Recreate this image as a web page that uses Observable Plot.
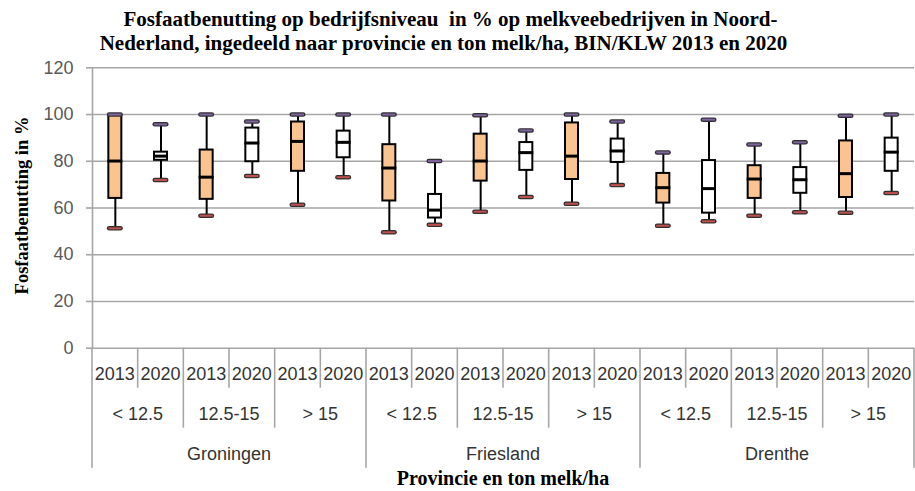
<!DOCTYPE html>
<html>
<head>
<meta charset="utf-8">
<script src="https://cdn.jsdelivr.net/npm/d3@7"></script>
<script src="https://cdn.jsdelivr.net/npm/@observablehq/plot@0.6"></script>
<style>
  html, body { margin: 0; padding: 0; background: white; overflow: hidden; }
  #title { width: 915px; height: 60px; box-sizing: border-box; padding-top: 7px; padding-right: 14px;
    font-family: "Liberation Serif", "Times New Roman", serif; font-weight: bold; font-size: 21px;
    line-height: 24px; text-align: center; color: #000; white-space: nowrap; }
  #title .l2 { position: relative; left: -7px; }
  #chart svg { display: block; max-width: none !important; }
</style>
</head>
<body>
<div id="title">Fosfaatbenutting op bedrijfsniveau&nbsp; in % op melkveebedrijven in Noord-<br><span class="l2">Nederland, ingedeeld naar provincie en ton melk/ha, BIN/KLW 2013 en 2020</span></div>
<div id="chart"></div>
<script>
// ---- data ----
const provinces = ["Groningen", "Friesland", "Drenthe"];
const sizes = ["< 12.5", "12.5-15", "> 15"];
const years = ["2013", "2020"];
const yTicks = [0, 20, 40, 60, 80, 100, 120];
// order: province > size class > year
const lows    = [51.3, 72.0, 56.7, 73.7, 61.4, 73.2,  49.6, 52.8, 58.4, 64.7, 61.8, 69.8,  52.4, 54.3, 56.7, 58.2, 58.0, 66.4];
const q1s     = [64.1, 80.4, 63.7, 79.8, 75.7, 81.5,  63.0, 55.7, 71.5, 76.1, 72.2, 79.5,  62.1, 57.8, 64.1, 66.3, 64.5, 75.7];
const medians = [80.1, 82.2, 73.2, 87.8, 88.5, 88.1,  77.1, 59.1, 80.1, 83.7, 82.2, 84.4,  68.7, 68.3, 72.4, 72.1, 74.7, 83.9];
const q3s     = [99.6, 83.9, 84.8, 94.2, 96.8, 92.9,  87.1, 65.8, 91.6, 88.0, 96.4, 89.5,  74.8, 80.3, 78.1, 77.3, 88.7, 89.9];
const highs   = [100, 95.8, 100, 97.0, 100, 100,  100, 80.1, 99.7, 93.2, 100, 97.0,  83.8, 97.8, 87.2, 88.1, 99.5, 100];

const yTitle = "Fosfaatbenutting in %";
const xTitle = "Provincie en ton melk/ha";

// ---- build rows ----
const rows = lows.map((low, i) => {
  const province = provinces[Math.floor(i / 6)];
  const size = sizes[Math.floor(i / 2) % 3];
  const year = years[i % 2];
  return {key: `${province}|${size}|${year}`, province, size, year, low, q1: q1s[i], median: medians[i], q3: q3s[i], high: highs[i]};
});
const keys = rows.map(d => d.key);

const peach = "#FAC490";
const purple = "#8064A2";
const red = "#C0504D";
const grid = "#A6A6A6";
const outline = "#303030";

const W = 915, H = 431;
const mTop = 7.3, mBottom = 143.3, mLeft = 92, mRight = 1;

const bw = (W - mLeft - mRight) / keys.length;
const boxInset = (bw - 13) / 2;
const medInset = (bw - 15) / 2;
const capOuterInset = (bw - 11.5) / 2;
const capInnerInset = (bw - 13) / 2;

const plot = Plot.plot({
  width: W, height: H,
  marginTop: mTop, marginBottom: mBottom, marginLeft: mLeft, marginRight: mRight,
  style: {fontFamily: "'Liberation Sans', Arial, sans-serif", fontSize: "18px", background: "white", overflow: "visible"},
  x: {type: "band", domain: keys, padding: 0, round: false, axis: null},
  y: {domain: [0, 120], axis: null},
  marks: [
    Plot.gridY(yTicks, {stroke: grid, strokeOpacity: 1, strokeWidth: 1.6}),
    Plot.axisY(yTicks, {tickSize: 6, tickPadding: 13, stroke: grid, strokeWidth: 1.6, fill: "#595959", fontSize: 18, label: null}),
    Plot.frame({anchor: "left", stroke: grid, strokeWidth: 1.6}),
    Plot.ruleX(rows, {x: "key", y1: "low", y2: "high", stroke: "#000", strokeWidth: 2}),
    Plot.barY(rows.filter(d => d.year === "2013"), {x: "key", y1: "q1", y2: "q3", fill: peach, stroke: "#000", strokeWidth: 2, insetLeft: boxInset, insetRight: boxInset}),
    Plot.barY(rows.filter(d => d.year === "2020"), {x: "key", y1: "q1", y2: "q3", fill: "white", stroke: "#000", strokeWidth: 2, insetLeft: boxInset, insetRight: boxInset}),
    Plot.tickY(rows, {x: "key", y: "median", stroke: "#000", strokeWidth: 3, insetLeft: medInset, insetRight: medInset}),
    Plot.tickY(rows, {x: "key", y: "high", stroke: outline, strokeWidth: 4.5, strokeLinecap: "round", insetLeft: capOuterInset, insetRight: capOuterInset}),
    Plot.tickY(rows, {x: "key", y: "high", stroke: purple, strokeWidth: 2, insetLeft: capInnerInset, insetRight: capInnerInset}),
    Plot.tickY(rows, {x: "key", y: "low", stroke: outline, strokeWidth: 4.5, strokeLinecap: "round", insetLeft: capOuterInset, insetRight: capOuterInset}),
    Plot.tickY(rows, {x: "key", y: "low", stroke: red, strokeWidth: 2, insetLeft: capInnerInset, insetRight: capInnerInset})
  ]
});

// ---- hierarchical category axis using Plot's own scales ----
const xs = plot.scale("x");
const ys = plot.scale("y");
const band = xs.bandwidth;
const y0 = ys.apply(0);
const svg = d3.select(plot);
const g = svg.append("g");

const bounds = d3.range(keys.length + 1);
g.selectAll("line.sep").data(bounds).join("line")
  .attr("x1", i => i < keys.length ? xs.apply(keys[i]) : xs.apply(keys[keys.length - 1]) + band)
  .attr("x2", i => i < keys.length ? xs.apply(keys[i]) : xs.apply(keys[keys.length - 1]) + band)
  .attr("y1", y0)
  .attr("y2", i => y0 + (i % 6 === 0 ? 120 : i % 2 === 0 ? 80 : 40))
  .attr("stroke", grid).attr("stroke-width", 1.6);

const txt = (sel) => sel.attr("text-anchor", "middle").attr("dominant-baseline", "middle")
  .attr("font-family", "'Liberation Sans', Arial, sans-serif").attr("font-size", 18).attr("fill", "#333");

g.selectAll("text.yr").data(rows).join("text").call(txt)
  .attr("x", d => xs.apply(d.key) + band / 2).attr("y", y0 + 28).text(d => d.year);

const sizeRows = rows.filter(d => d.year === "2013");
g.selectAll("text.sz").data(sizeRows).join("text").call(txt)
  .attr("x", d => xs.apply(d.key) + band).attr("y", y0 + 68).text(d => d.size);

const provRows = rows.filter((d, i) => i % 6 === 0);
g.selectAll("text.pv").data(provRows).join("text").call(txt)
  .attr("x", d => xs.apply(d.key) + 3 * band).attr("y", y0 + 108).text(d => d.province);

g.append("text").call(txt)
  .attr("x", (mLeft + W - mRight) / 2).attr("y", y0 + 133)
  .attr("font-family", "'Liberation Serif', 'Times New Roman', serif").attr("font-weight", "bold").attr("font-size", 20).attr("fill", "#000")
  .text(xTitle);

g.append("text").call(txt)
  .attr("transform", `translate(24,${(ys.apply(0) + ys.apply(120)) / 2 - 2}) rotate(-90)`)
  .attr("font-family", "'Liberation Serif', 'Times New Roman', serif").attr("font-weight", "bold").attr("font-size", 18.5).attr("fill", "#000")
  .text(yTitle);

document.getElementById("chart").appendChild(plot);
</script>
</body>
</html>
